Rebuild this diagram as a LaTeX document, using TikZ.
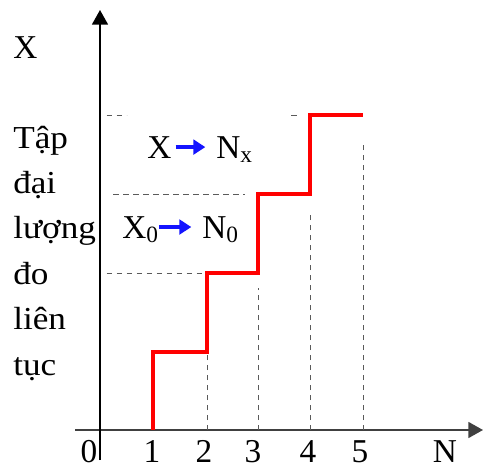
\documentclass[tikz,border=0pt]{standalone}
\usepackage{fontspec}
\setmainfont{Liberation Serif}
\newfontfamily\widefont[FakeStretch=1.1]{Liberation Serif}
\usetikzlibrary{positioning,arrows.meta}
\definecolor{stepred}{HTML}{FF0000}
\definecolor{guidegray}{HTML}{5A5A5A}
\definecolor{convblue}{HTML}{1414FF}

\begin{document}
\begin{tikzpicture}[x=0.75pt, y=-0.75pt,
    every node/.style={inner sep=0pt, font=\fontsize{25}{28}\selectfont},
    axis/.style={line width=1.3pt, -{Triangle[length=11pt,width=12pt]}},
    guide/.style={guidegray, line width=0.6pt, dash pattern=on 4pt off 3.5pt},
    stair/.style={stepred, line width=3pt},
    conv/.style={convblue, line width=2.4pt, -{Triangle[length=9pt,width=11pt]}},
    word/.style={anchor=base west, font=\widefont\fontsize{24}{28}\selectfont},
    ticklbl/.style={anchor=base, font=\fontsize{25}{30}\selectfont}
  ]
  \useasboundingbox (0,0) rectangle (483,468);

  % axes
  \coordinate (ybot) at (100,460);
  \coordinate (ytop) at (100,10);
  \coordinate (xleft) at (75,430);
  \coordinate (xright) at (483,430);
  \draw[axis, black!75] (xleft) -- (xright);
  \draw[axis] (ybot) -- (ytop);

  % ticks and levels
  \foreach \i/\xx in {1/153, 2/207, 3/258, 4/310, 5/363}
    \coordinate (t\i) at (\xx,430);
  \foreach \i/\yy in {1/352, 2/273, 3/194, 4/115}
    \coordinate (l\i) at (100,\yy);

  % guides
  \draw[guide] (t2) -- (t2 |- l1);
  \draw[guide] (t3) -- ([yshift=-11pt]t3 |- l2);
  \draw[guide] (t4) -- ([yshift=-13pt]t4 |- l3);
  \draw[guide] (t5) -- ([yshift=-19pt]t5 |- l4);
  \draw[guide] ([xshift=5pt]l2) -- (t2 |- l2);
  \draw[guide] ([xshift=10pt]l3) -- ([xshift=-10pt]t3 |- l3);
  \draw[guide] ([xshift=5pt]l4) -- ([xshift=20pt]l4);
  \draw[guide] ([xshift=-14pt]t4 |- l4) -- ([xshift=-9pt]t4 |- l4);

  % staircase
  \draw[stair] (t1) |- (t2 |- l1) |- (t3 |- l2) |- (t4 |- l3) |- (t5 |- l4);

  % axis labels
  \node[anchor=base west] (xlbl) at (13,58) {X};
  \foreach \w [count=\i] in {Tập,đại,lượng,đo,liên,tục}
    \node[word] (w\i) at (13,148+45.4*\i-45.4) {\w};

  \node[ticklbl] (n0) at (89,462) {0};
  \foreach \i/\xx in {1/152, 2/204, 3/253, 4/308, 5/360}
    \node[ticklbl] (n\i) at (\xx,462) {\i};
  \node[ticklbl] (nlbl) at (445,462) {N};

  % conversion labels
  \node[anchor=base west] (xa) at (147,158) {X};
  \node[anchor=base west] (na) at (216,158) {N\textsubscript{x}};
  \draw[conv] ([xshift=3pt]xa.east) -- ([xshift=-8pt]na.west |- xa.east);
  \node[anchor=base west] (xb) at (122,238) {X\textsubscript{0}};
  \node[anchor=base west] (nb) at (202,238) {N\textsubscript{0}};
  \draw[conv] ([yshift=2pt]xb.east) -- ([xshift=-8pt,yshift=2pt]nb.west |- xb.east);
\end{tikzpicture}
\end{document}
